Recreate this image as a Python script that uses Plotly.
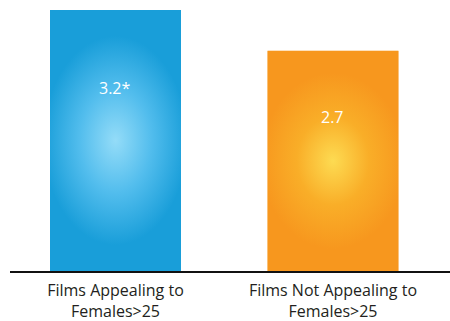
import base64
import plotly.graph_objects as go

categories = ["Films Appealing to<br>Females&gt;25", "Films Not Appealing to<br>Females&gt;25"]
values = [3.2, 2.7]
value_labels = ["3.2*", "2.7"]
edge_colors = ["#199ed9", "#f7971e"]
mid_colors = ["#52bded", "#f9ae28"]
center_colors = ["#94dcf8", "#fddb52"]

bar_width = 0.602
label_frac = 0.70


def gradient_svg(center, mid, edge):
    svg = (
        '<svg xmlns="http://www.w3.org/2000/svg" width="100" height="100" '
        'viewBox="0 0 100 100" preserveAspectRatio="none">'
        '<defs><radialGradient id="g" gradientUnits="objectBoundingBox" cx="0.5" cy="0.5" r="0.5" '
        'gradientTransform="translate(0.5,0.5) scale(1.1,0.8) translate(-0.5,-0.5)">'
        f'<stop offset="0" stop-color="{center}"/>'
        f'<stop offset="0.5" stop-color="{mid}"/>'
        f'<stop offset="1" stop-color="{edge}"/>'
        '</radialGradient></defs>'
        '<rect x="0" y="0" width="100" height="100" fill="url(#g)"/></svg>'
    )
    return "data:image/svg+xml;base64," + base64.b64encode(svg.encode()).decode()


xs = list(range(len(categories)))

fig = go.Figure()
fig.add_trace(go.Bar(
    x=xs, y=values, width=bar_width,
    marker=dict(color=edge_colors, line=dict(width=0)),
    hoverinfo="skip",
))

images = []
annotations = []
for i, v in enumerate(values):
    images.append(dict(
        source=gradient_svg(center_colors[i], mid_colors[i], edge_colors[i]),
        xref="x", yref="y", x=xs[i] - bar_width / 2, y=v,
        sizex=bar_width, sizey=v, sizing="stretch",
        xanchor="left", yanchor="top", layer="above",
    ))
    annotations.append(dict(
        x=xs[i], y=v * label_frac, xref="x", yref="y",
        text=value_labels[i], showarrow=False,
        font=dict(family="Open Sans, sans-serif", size=16, color="white"),
    ))

fig.update_layout(
    width=450, height=321,
    margin=dict(l=10, r=0, t=10, b=50),
    paper_bgcolor="white", plot_bgcolor="white",
    showlegend=False,
    images=images,
    annotations=annotations,
    xaxis=dict(
        range=[-0.485, 1.538], tickmode="array", tickvals=xs, ticktext=categories,
        showline=True, linecolor="#111111", linewidth=2, showgrid=False, zeroline=False,
        ticks="outside", ticklen=4, tickcolor="rgba(0,0,0,0)",
        tickfont=dict(family="Open Sans, sans-serif", size=16, color="#231f20"),
        fixedrange=True,
    ),
    yaxis=dict(range=[0, 3.2], visible=False, fixedrange=True),
)

fig.write_html("out.html")
